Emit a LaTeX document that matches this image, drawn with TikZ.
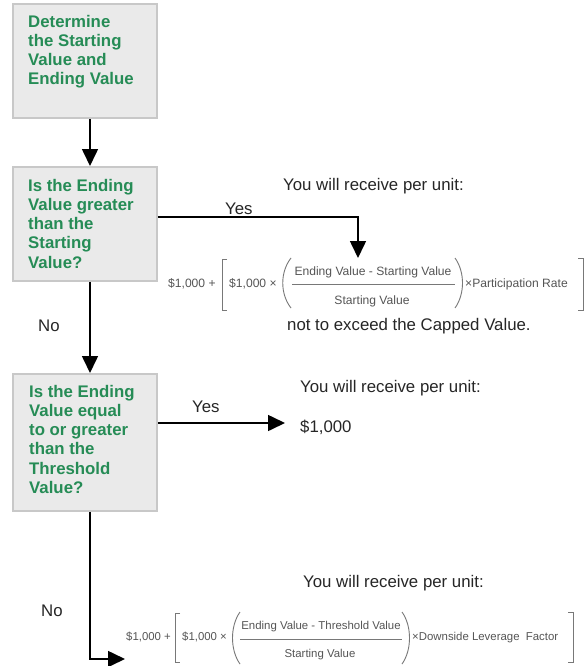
\documentclass[tikz,border=0pt]{standalone}
\usepackage{fontspec}
\setmainfont{Liberation Sans}
\usetikzlibrary{arrows.meta}
\definecolor{qgreen}{RGB}{38,140,86}
\definecolor{boxfill}{RGB}{234,234,234}
\definecolor{boxline}{RGB}{200,200,200}
\definecolor{fgray}{RGB}{85,85,85}
\definecolor{fline}{RGB}{120,120,120}
\begin{document}
\begin{tikzpicture}[x=1pt,y=-1pt,
  qbox/.style={draw=boxline, fill=boxfill, line width=1.8pt, anchor=north west, minimum width=144pt, inner sep=0pt},
  qtext/.style={font=\fontsize{16.8}{19.2}\selectfont\bfseries, text=qgreen, align=left, anchor=north west, inner sep=0pt},
  lbl/.style={font=\fontsize{16.8}{19}\selectfont, text=black!85, anchor=base west, inner sep=0pt},
  ftxt/.style={font=\fontsize{12.1}{13}\selectfont, text=fgray, inner sep=0pt},
  ftxtb/.style={font=\fontsize{11.4}{13}\selectfont, text=fgray, inner sep=0pt},
  fdraw/.style={draw=fline, line width=0.9pt},
  arr/.style={line width=1.6pt, -{Triangle[length=17pt,width=16pt]}}
]
\fill[white] (0,0) rectangle (585,666);
\useasboundingbox (0,0) rectangle (585,666);

% boxes
\node[qbox, minimum height=114pt] (b1) at (12,3) {};
\node[qbox, minimum height=114pt] (b2) at (12,166) {};
\node[qbox, minimum height=137pt] (b3) at (12,373) {};

\node[qtext] (q1) at (28,15) {Determine\\the Starting\\Value and\\Ending Value};
\node[qtext] (q2) at (28,179) {Is the Ending\\Value greater\\than the\\Starting\\Value?};
\node[qtext] (q3) at (29,385) {Is the Ending\\Value equal\\to or greater\\than the\\Threshold\\Value?};

% helper coordinates
\coordinate (vx) at (90,0);
\coordinate (y1) at (0,217);
\coordinate (y2) at (0,423);
\coordinate (t1) at (358,258);
\coordinate (t2) at (285,423);
\coordinate (t3) at (125,659);

% arrows
\draw[arr] (b1.south -| vx) -- (b2.north -| vx);
\draw[arr] (b2.south -| vx) -- (b3.north -| vx);
\draw[arr] (b2.east |- y1) -| (t1);
\draw[arr] (b3.east |- y2) -- (t2);
\draw[arr] (b3.south -| vx) |- (t3);

% labels
\node[lbl] (r1) at (283,190) {You will receive per unit:};
\node[lbl] (yes1) at (225,214) {Yes};
\node[lbl] (no1) at (38,331) {No};
\node[lbl] (cap) at (287,330) {not to exceed the Capped Value.};
\node[lbl] (r2) at (300,392) {You will receive per unit:};
\node[lbl] (yes2) at (192,412) {Yes};
\node[lbl] (v2) at (300,432) {\$1,000};
\node[lbl] (r3) at (303,587) {You will receive per unit:};
\node[lbl] (no2) at (41,616) {No};

% formula 1
\node[ftxt, anchor=mid west] (f1a) at (168,285) {\$1,000 +};
\draw[fdraw] (227,259) -- (222,259) -- (222,310) -- (227,310);
\node[ftxt, anchor=mid west] (f1b) at (229,285) {\$1,000 ×};
\draw[fdraw] (291,258) .. controls (280,272) and (280,294) .. (291,308);
\node[ftxt, anchor=mid] (f1n) at (373,273) {Ending Value - Starting Value};
\draw[fdraw] (292,284) -- (455,284);
\node[ftxt, anchor=mid] (f1d) at (372,302) {Starting Value};
\draw[fdraw] (455,258) .. controls (465,272) and (465,294) .. (455,308);
\node[ftxt, anchor=mid west] (f1c) at (465,285) {×Participation Rate};
\draw[fdraw] (578,258) -- (583,258) -- (583,310) -- (578,310);

% formula 2
\node[ftxtb, anchor=mid west] (f2a) at (126,638) {\$1,000 +};
\draw[fdraw] (180,613) -- (175,613) -- (175,662) -- (180,662);
\node[ftxtb, anchor=mid west] (f2b) at (182,638) {\$1,000 ×};
\draw[fdraw] (240,612) .. controls (230,626) and (230,650) .. (240,664);
\node[ftxtb, anchor=mid] (f2n) at (321,627) {Ending Value - Threshold Value};
\draw[fdraw] (240,639) -- (402,639);
\node[ftxtb, anchor=mid] (f2d) at (320,655) {Starting Value};
\draw[fdraw] (402,612) .. controls (412,626) and (412,650) .. (402,664);
\node[ftxtb, anchor=mid west] (f2c) at (412,638) {×Downside Leverage\ \ Factor};
\draw[fdraw] (568,612) -- (573,612) -- (573,662) -- (568,662);
\end{tikzpicture}
\end{document}
